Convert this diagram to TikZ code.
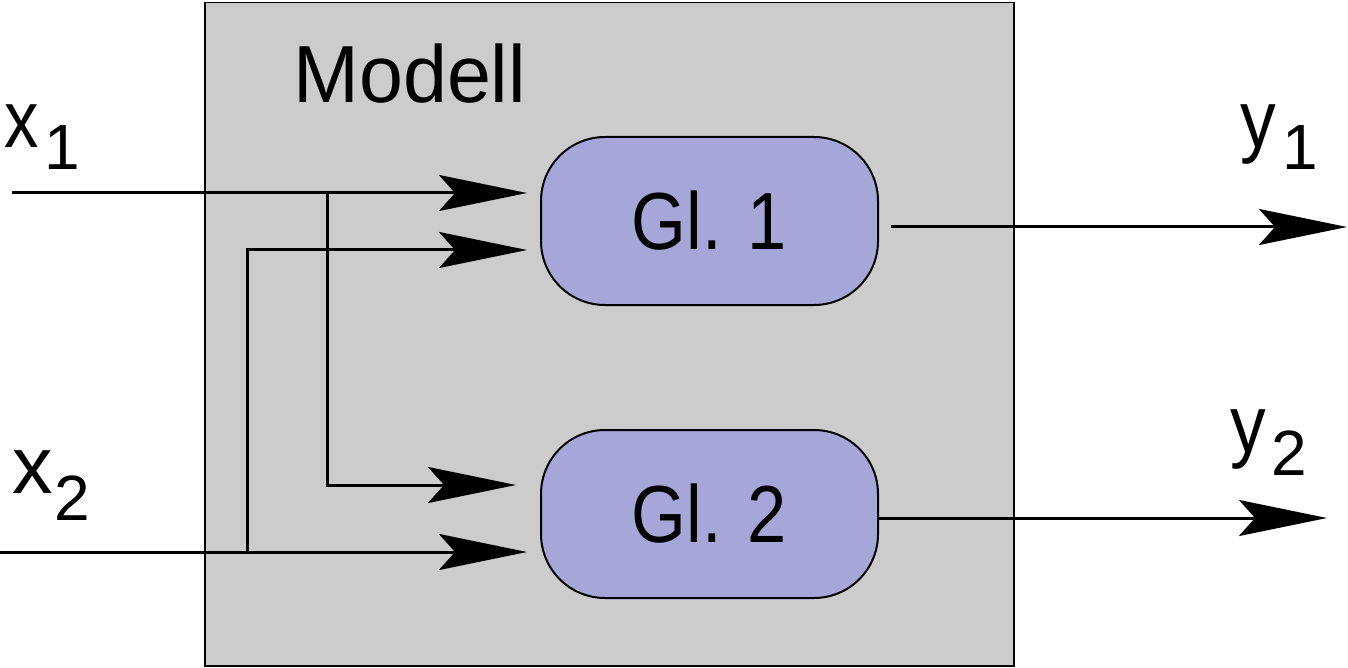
\documentclass[tikz,border=0pt]{standalone}
\usepackage{fontspec}
\setmainfont{Liberation Sans}
\usetikzlibrary{arrows.meta,calc}
\definecolor{boxgray}{HTML}{CCCCCC}
\definecolor{glfill}{HTML}{A6A6D8}
\newcommand{\bigfont}{\fontsize{40.5pt}{48pt}\selectfont}
\newcommand{\subfnt}{\fontsize{32pt}{38pt}\selectfont}
\begin{document}
\begin{tikzpicture}[x=0.5pt,y=-0.5pt,
  arr/.style={line width=1.5pt,-{Stealth[length=44pt,width=18pt,inset=8pt]}},
  glbox/.style={draw=black,line width=1pt,fill=glfill,rounded corners=32pt,
    minimum width=168.5pt,minimum height=84pt,inner sep=0pt,font=\bigfont},
  lbl/.style={anchor=base west,inner sep=0pt,font=\bigfont}]
\useasboundingbox (0,0) rectangle (1348,668);
\node[draw=black,line width=0.75pt,fill=boxgray,anchor=north west,inner sep=0pt,
  minimum width=404.5pt,minimum height=331.5pt] (model) at (204,2) {};
\node[lbl] (mlabel) at (293,103) {\scalebox{0.975}[1]{Modell}};
\node[glbox] (g1) at (709.5,221) {\scalebox{0.87}[1]{Gl. 1}};
\node[glbox] (g2) at (709.5,514) {\scalebox{0.87}[1]{Gl. 2}};
% labels
\node[lbl] (lx1) at (4,148) {\scalebox{0.85}[1]{x}\hspace{3pt}\raisebox{-11pt}{\subfnt 1}};
\node[lbl] (lx2) at (12,493) {x\hspace{1pt}\raisebox{-13.5pt}{\subfnt 2}};
\node[lbl] (ly1) at (1240,148) {\scalebox{0.88}[1]{y}\hspace{3pt}\raisebox{-11pt}{\subfnt 1}};
\node[lbl] (ly2) at (1230,452) {\scalebox{0.88}[1]{y}\hspace{2.5pt}\raisebox{-11.5pt}{\subfnt 2}};
% coordinates
\coordinate (in1) at (12,193);
\coordinate (in2) at (0,552);
\coordinate (b1) at (327,193);
\coordinate (b2) at (247,552);
\coordinate (out1) at (1347,227);
\coordinate (out2) at (1327,518);
% connectors
\draw[arr,shorten >=6.5pt] (in1) -- (g1.west |- in1);
\draw[arr,shorten >=6.5pt] (b2) |- ($(g1.west)+(0,29)$);
\draw[arr,shorten >=12pt] (b1) |- ($(g2.west)+(0,-29)$);
\draw[arr,shorten >=6.5pt] (in2) -- (g2.west |- in2);
\draw[arr] ($(g1.east)+(12,6)$) -- (out1);
\draw[arr] ($(g2.east)+(0,4)$) -- (out2);
\end{tikzpicture}
\end{document}
